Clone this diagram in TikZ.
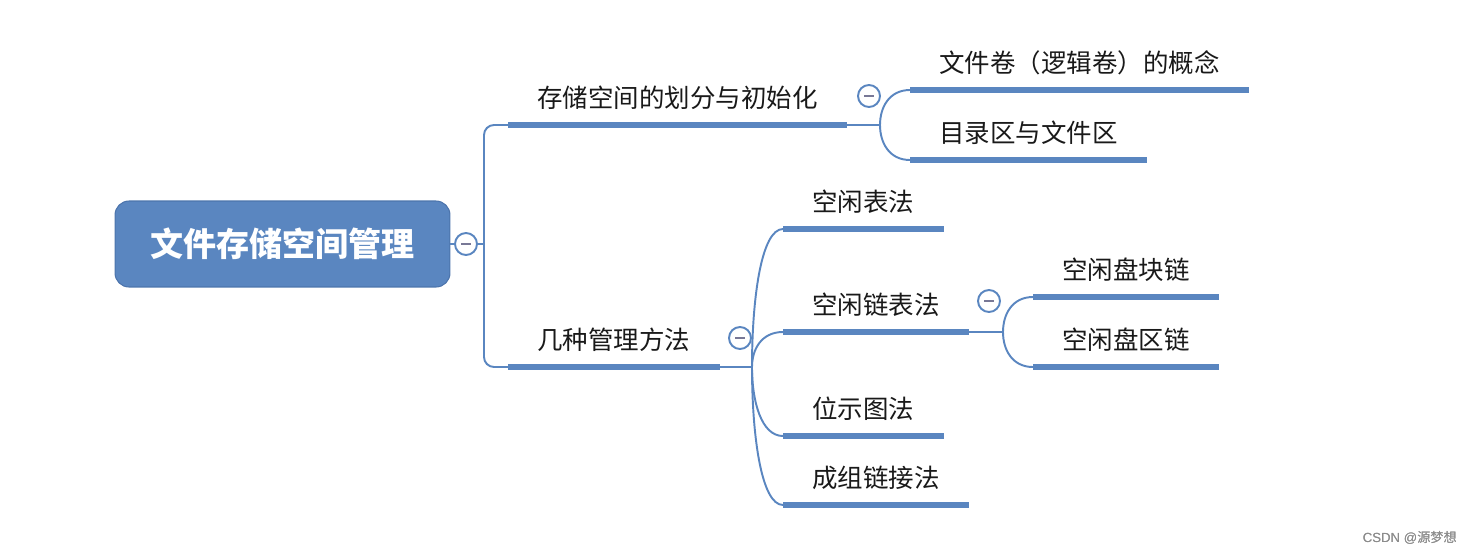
\documentclass[tikz,border=0pt]{standalone}
\usepackage{fontspec}
\setmainfont{Noto Sans CJK SC}
\newfontfamily\markfont{Liberation Sans}
\usetikzlibrary{calc}
\definecolor{mapblue}{RGB}{90,134,192}
\definecolor{mapedge}{RGB}{76,116,172}
\definecolor{dashgrey}{RGB}{120,120,150}
\tikzset{
	topic/.style={anchor=south west, inner xsep=0.58cm, inner ysep=0.35cm, text depth=0pt, text height=0.8em, text=black!90, font=\fontsize{14.5pt}{17pt}\selectfont},
	bar/.style={mapblue, line width=3.4pt},
	link/.style={mapblue, line width=1.1pt},
	fold/.style={circle, draw=mapblue, line width=1.1pt, fill=white, minimum size=0.44cm, inner sep=0pt,
		path picture={\draw[dashgrey, line width=1pt] ($(path picture bounding box.center)+(-0.1cm,0cm)$) -- ($(path picture bounding box.center)+(0.1cm,0cm)$);}},
	root/.style={rounded corners=0.28cm, fill=mapblue, draw=mapedge, line width=0.6pt, minimum width=6.7cm, minimum height=1.72cm, text=white, font=\fontsize{18.8pt}{22pt}\selectfont\bfseries},
}
\newcommand{\branch}[2]{\draw[link] (#1) .. controls ($(#1)!0.5!(#1 |- #2.south west)$) and ($(#1 |- #2.south west)!0.3!(#2.south west)$) .. (#2.south west);}
\begin{document}
\begin{tikzpicture}[x=0.02cm, y=-0.02cm]
				\useasboundingbox (0,0) rectangle (1477,555);
				\coordinate (j0) at (484,244);
				\coordinate (j1) at (880,125);
				\coordinate (j2) at (752,367);
				\coordinate (j3) at (1003,332);
				\node[root] (store) at (282.5,244) {文件存储空间管理};
				\node[fold] (c0) at (466,244) {};
				\node[fold] (c1) at (869,96) {};
				\node[fold] (c2) at (740,338) {};
				\node[fold] (c3) at (989,301) {};
				\node[topic] (split) at (508,125) {存储空间的划分与初始化};
				\node[topic] (methods) at (508,367) {几种管理方法};
				\node[topic] (vol) at (910,90) {文件卷（逻辑卷）的概念};
				\node[topic] (dir) at (910,160) {目录区与文件区};
				\node[topic] (table) at (783,229) {空闲表法};
				\node[topic] (chain) at (783,332) {空闲链表法};
				\node[topic] (bitmap) at (783,436) {位示图法};
				\node[topic] (group) at (783,505) {成组链接法};
				\node[topic] (block) at (1033,297) {空闲盘块链};
				\node[topic] (extent) at (1033,367) {空闲盘区链};
				\foreach \t in {split,methods,vol,dir,table,chain,bitmap,group,block,extent}
					\draw[bar] (\t.south west) -- (\t.south east);
				\draw[link] (store.east) -- (c0.west);
				\draw[link] (c0.east) -- (j0);
				\draw[link, rounded corners=0.2cm] (split.south west) -| (j0) |- (methods.south west);
				\draw[link] (split.south east) -- (j1);
				\foreach \t in {vol,dir}
					\branch{j1}{\t}
				\draw[link] (methods.south east) -- (j2);
				\foreach \t in {table,chain,bitmap,group}
					\branch{j2}{\t}
				\draw[link] (chain.south east) -- (j3);
				\foreach \t in {block,extent}
					\branch{j3}{\t}
				\node[text=black!45, font=\markfont\fontsize{7.5pt}{9pt}\selectfont, anchor=east] (mark) at (1463,538) {CSDN @{\fontspec{Noto Sans CJK SC}源梦想}};
			\end{tikzpicture}
\end{document}
